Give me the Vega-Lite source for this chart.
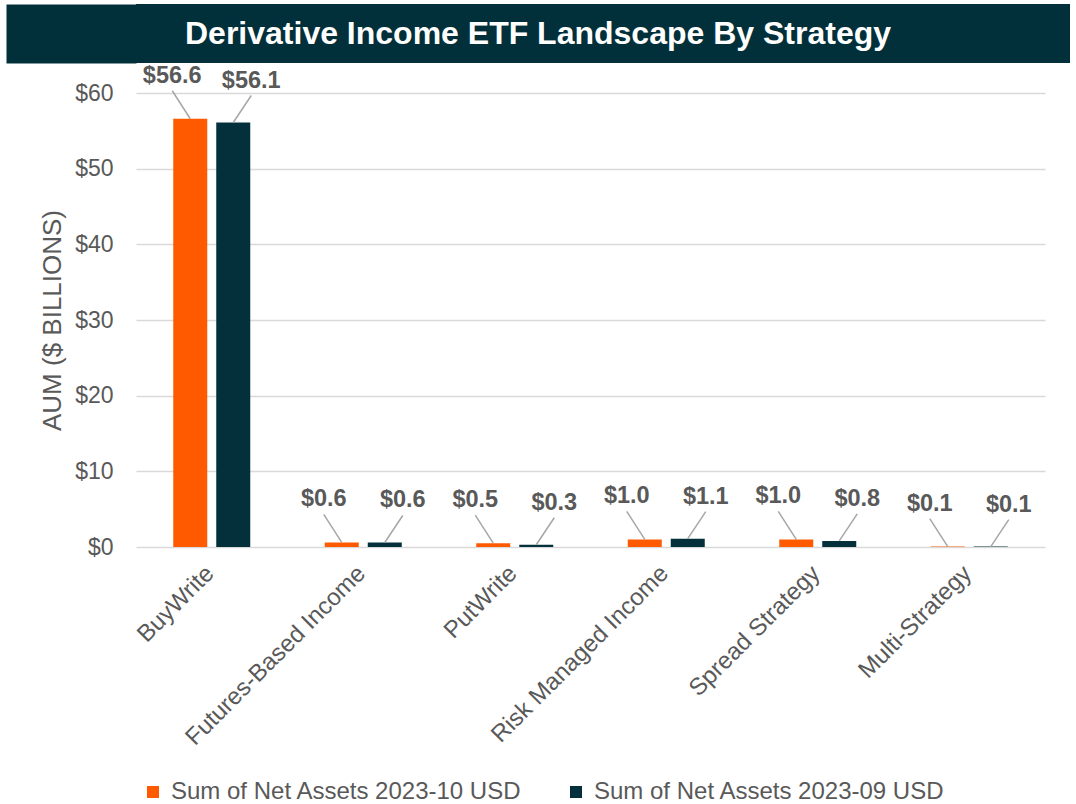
{
  "$schema": "https://vega.github.io/schema/vega-lite/v6.json",
  "background": "white",
  "padding": {"top": 4, "left": 6, "right": 6, "bottom": 0},
  "spacing": 0,
  "config": {
    "font": "Liberation Sans",
    "view": {"stroke": null}
  },
  "vconcat": [
    {
      "width": 934,
      "height": 59,
      "view": {"fill": "#02303A", "stroke": null},
      "data": {"values": [{"title": "Derivative Income ETF Landscape By Strategy"}]},
      "mark": {"type": "text", "color": "white", "fontSize": 32, "fontWeight": "bold", "font": "Liberation Sans", "align": "center", "baseline": "middle", "dx": -65},
      "encoding": {
        "text": {"field": "title", "type": "nominal"},
        "y": {"datum": 1, "type": "quantitative", "scale": {"domain": [0, 2]},
          "axis": {"title": null, "labels": false, "ticks": false, "grid": false, "domain": true, "domainColor": "#02303A", "domainWidth": 130, "domainCap": "butt", "offset": 65}}
      }
    },
    {
      "width": 909,
      "height": 454,
      "data": {"values": [
        {"strategy": "BuyWrite", "series": "Sum of Net Assets 2023-10 USD", "value": 56.6},
        {"strategy": "BuyWrite", "series": "Sum of Net Assets 2023-09 USD", "value": 56.1},
        {"strategy": "Futures-Based Income", "series": "Sum of Net Assets 2023-10 USD", "value": 0.6},
        {"strategy": "Futures-Based Income", "series": "Sum of Net Assets 2023-09 USD", "value": 0.6},
        {"strategy": "PutWrite", "series": "Sum of Net Assets 2023-10 USD", "value": 0.5},
        {"strategy": "PutWrite", "series": "Sum of Net Assets 2023-09 USD", "value": 0.3},
        {"strategy": "Risk Managed Income", "series": "Sum of Net Assets 2023-10 USD", "value": 1.0},
        {"strategy": "Risk Managed Income", "series": "Sum of Net Assets 2023-09 USD", "value": 1.1},
        {"strategy": "Spread Strategy", "series": "Sum of Net Assets 2023-10 USD", "value": 1.0},
        {"strategy": "Spread Strategy", "series": "Sum of Net Assets 2023-09 USD", "value": 0.8},
        {"strategy": "Multi-Strategy", "series": "Sum of Net Assets 2023-10 USD", "value": 0.06},
        {"strategy": "Multi-Strategy", "series": "Sum of Net Assets 2023-09 USD", "value": 0.06}
      ]},
      "encoding": {
        "x": {
          "field": "strategy", "type": "nominal", "bandPosition": 0.5,
          "sort": ["BuyWrite", "Futures-Based Income", "PutWrite", "Risk Managed Income", "Spread Strategy", "Multi-Strategy"],
          "scale": {"paddingInner": 0, "paddingOuter": 0},
          "axis": {"title": null, "labelAngle": -45, "labelAlign": "right", "labelBaseline": "top", "labelFontSize": 24, "labelColor": "#595959", "labelFont": "Liberation Sans", "labelPadding": 14, "labelOffset": -10, "labelLimit": 0, "ticks": false, "domain": false}
        }
      },
      "layer": [
        {
          "transform": [{"filter": "datum.series == 'Sum of Net Assets 2023-10 USD'"}],
          "mark": {"type": "bar", "width": 34, "xOffset": -21.5},
          "encoding": {
            "y": {"field": "value", "type": "quantitative", "scale": {"domain": [0, 60], "nice": false},
              "axis": {"title": ["", "AUM ($ BILLIONS)"], "titleLineHeight": 33, "values": [0, 10, 20, 30, 40, 50, 60], "format": "$.0f", "labelFontSize": 23, "labelColor": "#595959", "labelFont": "Liberation Sans", "labelPadding": 23, "ticks": false, "domain": false, "grid": true, "gridColor": "#D9D9D9", "gridWidth": 1.5, "titleFontSize": 26, "titleFontWeight": "normal", "titleColor": "#595959", "titleFont": "Liberation Sans", "titlePadding": 9}},
            "color": {"field": "series", "type": "nominal",
              "scale": {"domain": ["Sum of Net Assets 2023-10 USD", "Sum of Net Assets 2023-09 USD"], "range": ["#FF5A00", "#03303A"]},
              "legend": {"orient": "bottom", "direction": "horizontal", "title": null, "symbolType": "square", "symbolSize": 144, "symbolStrokeWidth": 0, "labelFontSize": 24, "labelColor": "#595959", "labelFont": "Liberation Sans", "labelLimit": 0, "labelOffset": 6, "columnPadding": 42, "offset": 25, "padding": 5}}
          }
        },
        {
          "transform": [{"filter": "datum.series == 'Sum of Net Assets 2023-09 USD'"}],
          "mark": {"type": "bar", "width": 34, "xOffset": 21.5},
          "encoding": {
            "y": {"field": "value", "type": "quantitative"},
            "color": {"field": "series", "type": "nominal"}
          }
        },
        {
          "transform": [{"filter": "datum.series == 'Sum of Net Assets 2023-10 USD'"}],
          "mark": {"type": "rule", "color": "#A6A6A6", "strokeWidth": 1.5, "xOffset": -21.5, "x2Offset": -39.5, "yOffset": 0, "y2Offset": -28},
          "encoding": {
            "x2": {"field": "strategy", "bandPosition": 0.5},
            "y": {"field": "value", "type": "quantitative"},
            "y2": {"field": "value"}
          }
        },
        {
          "transform": [{"filter": "datum.series == 'Sum of Net Assets 2023-09 USD'"}],
          "mark": {"type": "rule", "color": "#A6A6A6", "strokeWidth": 1.5, "xOffset": 21.5, "x2Offset": 39.5, "yOffset": 0, "y2Offset": -27},
          "encoding": {
            "x2": {"field": "strategy", "bandPosition": 0.5},
            "y": {"field": "value", "type": "quantitative"},
            "y2": {"field": "value"}
          }
        },
        {
          "transform": [{"filter": "datum.series == 'Sum of Net Assets 2023-10 USD'"}],
          "mark": {"type": "text", "color": "#595959", "fontWeight": "bold", "fontSize": 23.5, "font": "Liberation Sans", "align": "center", "baseline": "alphabetic", "xOffset": -39.5, "yOffset": -36},
          "encoding": {
            "y": {"field": "value", "type": "quantitative"},
            "text": {"field": "value", "type": "quantitative", "format": "$.1f"}
          }
        },
        {
          "transform": [{"filter": "datum.series == 'Sum of Net Assets 2023-09 USD'"}],
          "mark": {"type": "text", "color": "#595959", "fontWeight": "bold", "fontSize": 23.5, "font": "Liberation Sans", "align": "center", "baseline": "alphabetic", "xOffset": 39.5, "yOffset": -35},
          "encoding": {
            "y": {"field": "value", "type": "quantitative"},
            "text": {"field": "value", "type": "quantitative", "format": "$.1f"}
          }
        }
      ]
    }
  ]
}
